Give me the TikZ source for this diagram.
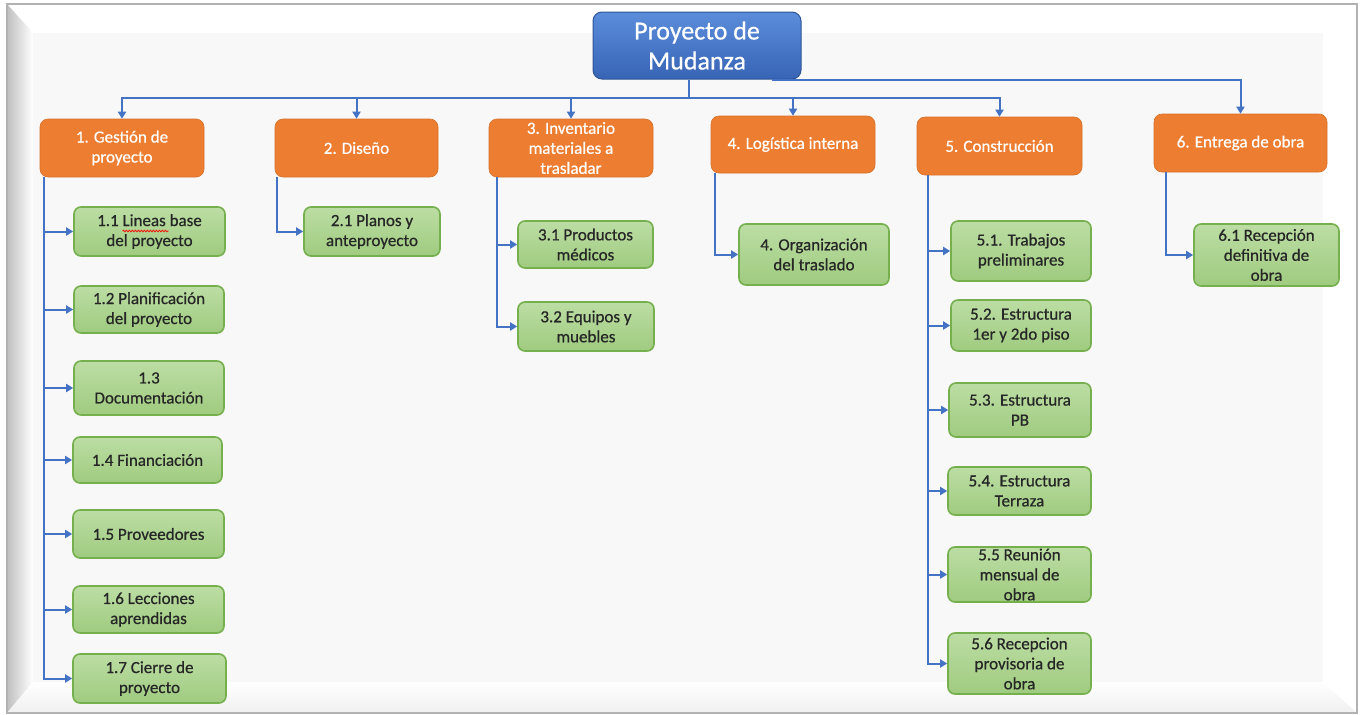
\documentclass[tikz,border=0pt]{standalone}
\usepackage{fontspec}
\setmainfont{Carlito}
\newfontfamily\medfont{Carlito}[FakeBold=0.6]
\usetikzlibrary{arrows.meta,calc,decorations.pathmorphing}
\definecolor{linkblue}{HTML}{4472C4}
\definecolor{orangefill}{HTML}{ED7D31}
\definecolor{greenborder}{HTML}{76B04E}
\definecolor{greentop}{HTML}{BCDDA4}
\definecolor{greenbot}{HTML}{9FCB7F}
\definecolor{rootborder}{HTML}{2F5597}
\definecolor{roottop}{HTML}{5B8DDB}
\definecolor{rootbot}{HTML}{3864B5}
\definecolor{txtdark}{HTML}{262626}
\definecolor{panel}{HTML}{F8F8F8}
\begin{document}
\begin{tikzpicture}[x=1pt,y=-1pt,
  rootbox/.style={draw=rootborder, line width=1pt, rounded corners=9pt, top color=roottop, bottom color=rootbot,
    text=white, align=center, inner sep=0pt, font=\medfont\fontsize{26}{30}\selectfont},
  lvlone/.style={fill=orangefill, draw=orangefill!90!black, line width=0.6pt, rounded corners=8pt, text=white,
    align=center, inner sep=0pt, font=\medfont\fontsize{17}{20}\selectfont},
  lvltwo/.style={draw=greenborder, line width=1.6pt, rounded corners=7pt, top color=greentop, bottom color=greenbot,
    text=txtdark, align=center, inner sep=0pt, font=\medfont\fontsize{17}{20}\selectfont},
  arr/.style={draw=linkblue, line width=2pt, -{Triangle[width=8pt,length=7pt]}},
  plain/.style={draw=linkblue, line width=2pt}
]
\useasboundingbox (0,0) rectangle (1361,715);
% frame
\fill[white] (0,0) rectangle (1361,715);
\shade[left color=black!25, right color=white] (7,4) -- (33,33) -- (33,682) -- (7,713) -- cycle;
\shade[top color=white, bottom color=black!6] (7,713) -- (33,682) -- (1323,682) -- (1357,713) -- cycle;
\fill[panel] (33,33) rectangle (1323,682);
\draw[black!30, line width=1.5pt] (7,4) rectangle (1357,713);

% root
\node[rootbox, minimum width=208, minimum height=67] (root) at (697,45.5) {Proyecto de\\Mudanza};

% level 1
\node[lvlone, minimum width=164, minimum height=58] (n1) at (122,148) {1. Gestión de\\proyecto};
\node[lvlone, minimum width=163, minimum height=58] (n2) at (356.5,148) {2. Diseño};
\node[lvlone, minimum width=164, minimum height=58] (n3) at (571,148) {3. Inventario\\materiales a\\trasladar};
\node[lvlone, minimum width=164, minimum height=57] (n4) at (793,144.5) {4. Logística interna};
\node[lvlone, minimum width=165, minimum height=58] (n5) at (999.5,146) {5. Construcción};
\node[lvlone, minimum width=173, minimum height=58] (n6) at (1240.5,143) {6. Entrega de obra};

% level 2 -- branch 1
\node[lvltwo, minimum width=151, minimum height=49] (n11) at (149.5,231.5) {1.1 Lineas base\\del proyecto};
\node[lvltwo, minimum width=150, minimum height=47] (n12) at (149,309.5) {1.2 Planificación\\del proyecto};
\node[lvltwo, minimum width=150, minimum height=54] (n13) at (149,388) {1.3\\Documentación};
\node[lvltwo, minimum width=149, minimum height=46] (n14) at (147.5,460) {1.4 Financiación};
\node[lvltwo, minimum width=151, minimum height=48] (n15) at (148.5,534) {1.5 Proveedores};
\node[lvltwo, minimum width=151, minimum height=47] (n16) at (148.5,609.5) {1.6 Lecciones\\aprendidas};
\node[lvltwo, minimum width=153, minimum height=49] (n17) at (149.5,678.5) {1.7 Cierre de\\proyecto};
% branch 2
\node[lvltwo, minimum width=136, minimum height=49] (n21) at (372,231.5) {2.1 Planos y\\anteproyecto};
% branch 3
\node[lvltwo, minimum width=135, minimum height=47] (n31) at (585.5,244.5) {3.1 Productos\\médicos};
\node[lvltwo, minimum width=136, minimum height=49] (n32) at (586,326.5) {3.2 Equipos y\\muebles};
% branch 4
\node[lvltwo, minimum width=150, minimum height=61] (n41) at (814,254.5) {4. Organización\\del traslado};
% branch 5
\node[lvltwo, minimum width=140, minimum height=60] (n51) at (1021,251) {5.1. Trabajos\\preliminares};
\node[lvltwo, minimum width=140, minimum height=51] (n52) at (1021,325.5) {5.2. Estructura\\1er y 2do piso};
\node[lvltwo, minimum width=142, minimum height=54] (n53) at (1020,410) {5.3. Estructura\\PB};
\node[lvltwo, minimum width=143, minimum height=48] (n54) at (1019.5,491) {5.4. Estructura\\Terraza};
\node[lvltwo, minimum width=143, minimum height=55] (n55) at (1019.5,574.5) {5.5 Reunión\\mensual de\\obra};
\node[lvltwo, minimum width=143, minimum height=61] (n56) at (1019.5,663.5) {5.6 Recepcion\\provisoria de\\obra};
% branch 6
\node[lvltwo, minimum width=145, minimum height=62] (n61) at (1266.5,255) {6.1 Recepción\\definitiva de\\obra};

% spell-check wave under "Lineas"
\draw[red, line width=0.7pt, decorate, decoration={snake, segment length=3pt, amplitude=0.9pt}]
  ($(n11.center)+(-27,-0.5)$) -- ($(n11.center)+(19,-0.5)$);

% connectors from root
\coordinate (bus) at (689,98);
\draw[plain] (root.south -| bus) -- (bus);
\foreach \t in {n1,n2,n3,n4,n5} { \draw[arr] (bus) -| (\t.north); }
\draw[arr] ([xshift=-30pt]root.south east) -| (n6.north);

% children connectors
\foreach \c in {n11,n12,n13,n14,n15,n16,n17} { \draw[arr] ([xshift=4pt]n1.south west) |- (\c.west); }
\draw[arr] ([xshift=2pt]n2.south west) |- (n21.west);
\foreach \c in {n31,n32} { \draw[arr] ([xshift=8pt]n3.south west) |- (\c.west); }
\draw[arr] ([xshift=4pt]n4.south west) |- (n41.west);
\foreach \c in {n51,n52,n53,n54,n55,n56} { \draw[arr] ([xshift=11pt]n5.south west) |- (\c.west); }
\draw[arr] ([xshift=12pt]n6.south west) |- (n61.west);
\end{tikzpicture}
\end{document}
